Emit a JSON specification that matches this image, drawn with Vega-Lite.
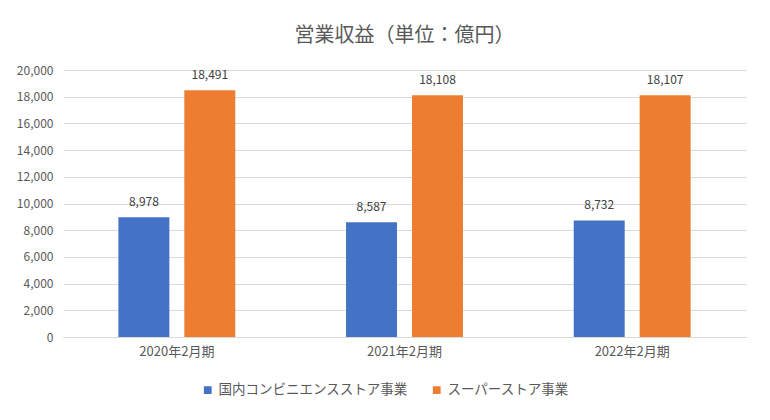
{
  "$schema": "https://vega.github.io/schema/vega-lite/v6.json",
  "width": 770,
  "height": 420,
  "autosize": {"type": "fit", "contains": "padding"},
  "padding": {"left": 16, "right": 24, "top": 26, "bottom": 62},
  "background": "white",
  "title": {
    "text": "営業収益（単位：億円）",
    "font": "Noto Sans CJK JP",
    "fontSize": 20,
    "fontWeight": "normal",
    "color": "#595959",
    "anchor": "middle",
    "offset": 18
  },
  "data": {
    "values": [
      {"period": "2020年2月期", "segment": "国内コンビニエンスストア事業", "value": 8978},
      {"period": "2020年2月期", "segment": "スーパーストア事業", "value": 18491},
      {"period": "2021年2月期", "segment": "国内コンビニエンスストア事業", "value": 8587},
      {"period": "2021年2月期", "segment": "スーパーストア事業", "value": 18108},
      {"period": "2022年2月期", "segment": "国内コンビニエンスストア事業", "value": 8732},
      {"period": "2022年2月期", "segment": "スーパーストア事業", "value": 18107}
    ]
  },
  "encoding": {
    "x": {
      "field": "period",
      "type": "nominal",
      "title": null,
      "scale": {"paddingInner": 0, "paddingOuter": 0},
      "axis": {
        "labelAngle": 0,
        "labelFont": "Noto Sans CJK JP",
        "labelFontSize": 13,
        "labelColor": "#595959",
        "domainColor": "#d9d9d9",
        "ticks": false,
        "labelPadding": 8
      }
    },
    "xOffset": {
      "field": "segment",
      "type": "nominal",
      "sort": ["国内コンビニエンスストア事業", "スーパーストア事業"],
      "scale": {"paddingInner": 0.227, "paddingOuter": 0.84}
    },
    "y": {
      "field": "value",
      "type": "quantitative",
      "title": null,
      "scale": {"domain": [0, 20000]},
      "axis": {
        "values": [0, 2000, 4000, 6000, 8000, 10000, 12000, 14000, 16000, 18000, 20000],
        "format": ",d",
        "labelFont": "Noto Sans CJK JP",
        "labelFontSize": 12,
        "labelColor": "#595959",
        "domain": false,
        "ticks": false,
        "gridColor": "#d9d9d9",
        "labelPadding": 10
      }
    },
    "color": {
      "field": "segment",
      "type": "nominal",
      "sort": ["国内コンビニエンスストア事業", "スーパーストア事業"],
      "scale": {"domain": ["国内コンビニエンスストア事業", "スーパーストア事業"], "range": ["#4472c4", "#ed7d31"]},
      "legend": {
        "orient": "none",
        "legendX": 138,
        "legendY": 313,
        "direction": "horizontal",
        "title": null,
        "symbolType": "square",
        "symbolSize": 60,
        "labelFont": "Noto Sans CJK JP",
        "labelFontSize": 13.5,
        "labelColor": "#595959",
        "labelLimit": 0,
        "columnPadding": 22
      }
    }
  },
  "layer": [
    {"mark": {"type": "bar"}},
    {
      "mark": {"type": "text", "baseline": "bottom", "dy": -8, "font": "Noto Sans CJK JP", "fontSize": 12, "color": "#404040"},
      "encoding": {
        "text": {"field": "value", "type": "quantitative", "format": ",d"},
        "color": {"value": "#404040"}
      }
    }
  ],
  "config": {"view": {"stroke": null}}
}
